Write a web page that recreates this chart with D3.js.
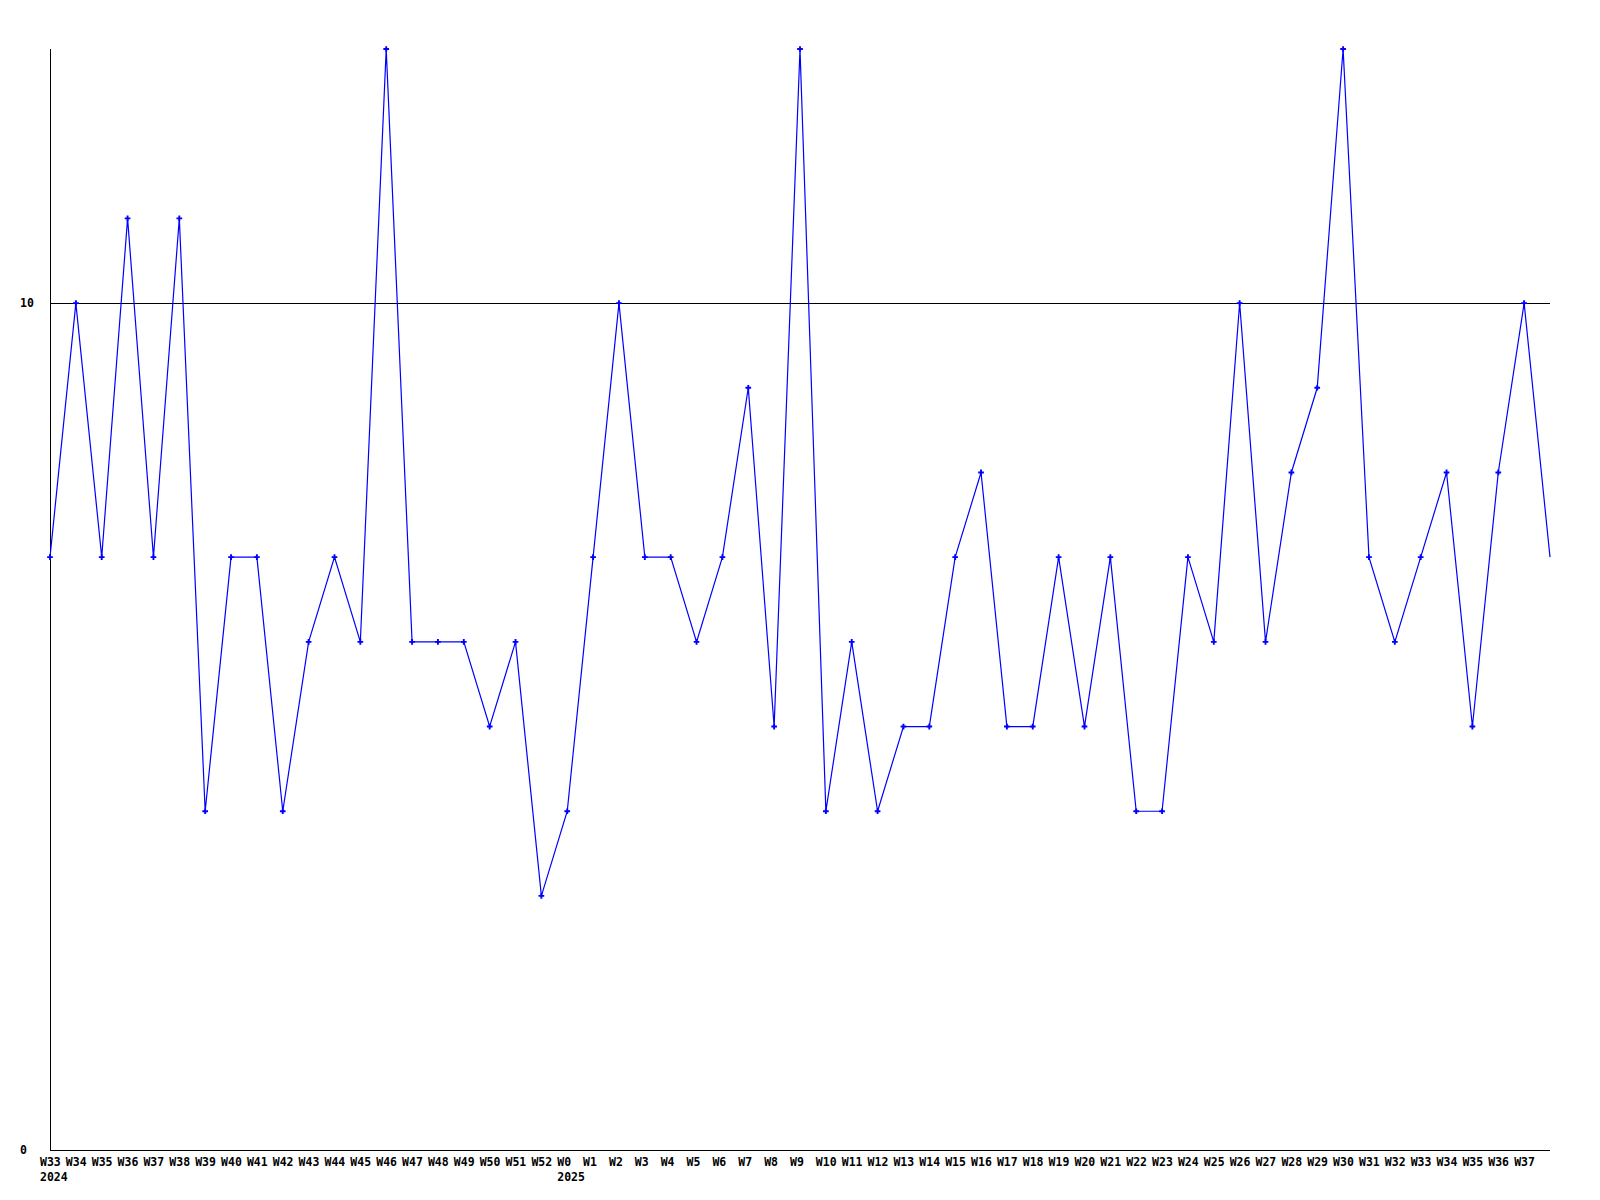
<!DOCTYPE html>
<html>
<head>
<meta charset="utf-8">
<script src="https://cdn.jsdelivr.net/npm/d3@7"></script>
<style>
  body { margin: 0; background: #fff; }
  text { font-family: 'DejaVu Sans Mono', monospace; font-weight: bold; font-size: 11.5px; }
</style>
</head>
<body>
<div id="chart"></div>
<script>
const weeks = ['W33', 'W34', 'W35', 'W36', 'W37', 'W38', 'W39', 'W40', 'W41', 'W42',
  'W43', 'W44', 'W45', 'W46', 'W47', 'W48', 'W49', 'W50', 'W51', 'W52',
  'W0', 'W1', 'W2', 'W3', 'W4', 'W5', 'W6', 'W7', 'W8', 'W9',
  'W10', 'W11', 'W12', 'W13', 'W14', 'W15', 'W16', 'W17', 'W18', 'W19',
  'W20', 'W21', 'W22', 'W23', 'W24', 'W25', 'W26', 'W27', 'W28', 'W29',
  'W30', 'W31', 'W32', 'W33', 'W34', 'W35', 'W36', 'W37', 'W38']
const values = [7, 10, 7, 11, 7, 11, 4, 7, 7, 4,
  6, 7, 6, 13, 6, 6, 6, 5, 6, 3,
  4, 7, 10, 7, 7, 6, 7, 9, 5, 13,
  4, 6, 4, 5, 5, 7, 8, 5, 5, 7,
  5, 7, 4, 4, 7, 6, 10, 6, 8, 9,
  13, 7, 6, 7, 8, 5, 8, 10, 7]
// year markers under the first week of each year
const years = [{ week: 0, label: '2024' }, { week: 20, label: '2025' }]
const yTicks = [0, 10]

const margin = { top: 49, right: 50, bottom: 50, left: 50 }
const width = 1600 - margin.left - margin.right
const height = 1200 - margin.top - margin.bottom

const svg = d3.select('#chart')
  .append('svg')
  .attr('width', 1600)
  .attr('height', 1200)
  .append('g')
  .attr('transform', `translate(${margin.left},${margin.top})`)

const x = d3.scaleLinear().domain([0, weeks.length - 1]).range([0, width])
const y = d3.scaleLinear().domain([0, 13]).range([height, 0])

// gridline at 10
svg.append('line')
  .attr('x1', 0).attr('x2', width)
  .attr('y1', Math.round(y(10)) + 0.5).attr('y2', Math.round(y(10)) + 0.5)
  .attr('stroke', 'black')
  .attr('shape-rendering', 'crispEdges')

// axes lines
svg.append('line')
  .attr('x1', 0.5).attr('x2', 0.5)
  .attr('y1', 0).attr('y2', height)
  .attr('stroke', 'black')
  .attr('shape-rendering', 'crispEdges')
svg.append('line')
  .attr('x1', 0).attr('x2', width)
  .attr('y1', height + 0.5).attr('y2', height + 0.5)
  .attr('stroke', 'black')
  .attr('shape-rendering', 'crispEdges')

svg.selectAll('.ylab')
  .data(yTicks)
  .enter()
  .append('text')
  .attr('class', 'ylab')
  .attr('x', -30)
  .attr('y', d => y(d) + 4)
  .text(d => d)

svg.selectAll('.xlab')
  .data(weeks.slice(0, weeks.length - 1))
  .enter()
  .append('text')
  .attr('class', 'xlab')
  .attr('x', (d, i) => x(i) - 10)
  .attr('y', height + 16)
  .text(d => d)

svg.selectAll('.year')
  .data(years)
  .enter()
  .append('text')
  .attr('class', 'year')
  .attr('x', d => x(d.week) - 10)
  .attr('y', height + 31)
  .text(d => d.label)

const line = d3.line()
  .x((d, i) => x(i))
  .y(d => y(d))

svg.append('path')
  .datum(values)
  .attr('d', line)
  .attr('fill', 'none')
  .attr('stroke', '#0000ff')
  .attr('stroke-width', 1.2)

svg.selectAll('.pt')
  .data(values.slice(0, values.length - 1))
  .enter()
  .append('path')
  .attr('class', 'pt')
  .attr('transform', (d, i) => `translate(${x(i)},${y(d)})`)
  .attr('d', d3.symbol(d3.symbolCross, 18))
  .attr('fill', '#0000ff')
</script>
</body>
</html>
